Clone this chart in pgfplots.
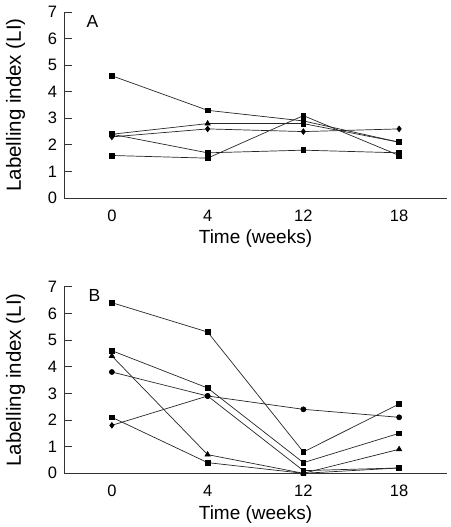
\documentclass[border=0pt]{standalone}
\usepackage{fontspec}
\setmainfont{Liberation Sans}
\usepackage{pgfplots}
\pgfplotsset{compat=1.18}
\begin{document}
\begin{tikzpicture}[x=1pt,y=1pt]
\path[use as bounding box] (0,0) rectangle (450,527);
\pgfplotsset{
 panel/.style={
  scale only axis, width=383pt, height=186pt,
  xmin=-0.5, xmax=3.5, ymin=0, ymax=7,
  axis x line*=bottom, axis y line*=left,
  axis line style={-, line width=0.9pt, black!80},
  xtick={0,1,2,3}, xticklabels={0,4,12,18},
  minor xtick={0.5,1.5,2.5,3.5},
  xtick style={draw=none},
  minor x tick style={line width=0.9pt, black!80},
  ytick={0,...,7},
  ytick style={line width=0.9pt, black!80},
  tick align=inside,
  major tick length=8pt, minor tick length=7pt,
  ticklabel style={font=\fontsize{16.5}{19}\selectfont},
  xticklabel style={yshift=-8.5pt},
  yticklabel style={xshift=-3.3pt},
  /pgf/number format/assume math mode=true,
  xlabel={Time (weeks)}, ylabel={Labelling index (LI)},
  xlabel style={font=\fontsize{19}{22}\selectfont, at={(axis description cs:0.5,-0.247)}, anchor=base},
  ylabel style={font=\fontsize{20.5}{24}\selectfont, at={(axis description cs:-0.1123,0.5)}, anchor=base},
  clip=false,
  scatter/classes={
    s={mark=square*, mark size=2.4pt, black},
    t={mark=triangle*, mark size=3pt, black},
    d={mark=diamond*, mark size=2.8pt, black},
    c={mark=*, mark size=2.5pt, black}},
 },
 ser/.style={black!85, line width=0.7pt, scatter, point meta=explicit symbolic},
}
% Panel A
\begin{axis}[panel, at={(64pt,329pt)}, anchor=south west]
\addplot[ser] coordinates {(0,4.6) [s] (1,3.3) [s] (2,2.9) [s] (3,2.1) [s]};
\addplot[ser] coordinates {(0,2.4) [s] (1,2.8) [t] (2,2.8) [s] (3,2.1) [s]};
\addplot[ser] coordinates {(0,2.3) [d] (1,2.6) [d] (2,2.5) [d] (3,2.6) [d]};
\addplot[ser] coordinates {(0,2.4) [s] (1,1.7) [s] (2,1.8) [s] (3,1.7) [s]};
\addplot[ser] coordinates {(0,1.6) [s] (1,1.5) [s] (2,3.1) [s] (3,1.6) [s]};
\node[anchor=base west, font=\fontsize{17.5}{20}\selectfont] at (axis description cs:0.05,0.919) {A};
\end{axis}
% Panel B
\begin{axis}[panel, height=186.6pt, at={(64pt,53.7pt)}, anchor=south west]
\addplot[ser] coordinates {(0,4.4) [t] (1,0.7) [t] (2,0.0) [t] (3,0.9) [t]};
\addplot[ser] coordinates {(0,6.4) [s] (1,5.3) [s] (2,0.8) [s] (3,2.6) [s]};
\addplot[ser] coordinates {(0,4.6) [s] (1,3.2) [s] (2,0.4) [s] (3,1.5) [s]};
\addplot[ser] coordinates {(0,3.8) [c] (1,2.9) [c] (2,0.1) [s] (3,0.2) [c]};
\addplot[ser] coordinates {(0,2.1) [s] (1,0.4) [s] (2,0.0) [s] (3,0.2) [s]};
\addplot[ser] coordinates {(0,1.8) [d] (1,2.9) [c] (2,2.4) [c] (3,2.1) [c]};
\node[anchor=base west, font=\fontsize{17.5}{20}\selectfont] at (axis description cs:0.055,0.923) {B};
\end{axis}
\end{tikzpicture}
\end{document}
